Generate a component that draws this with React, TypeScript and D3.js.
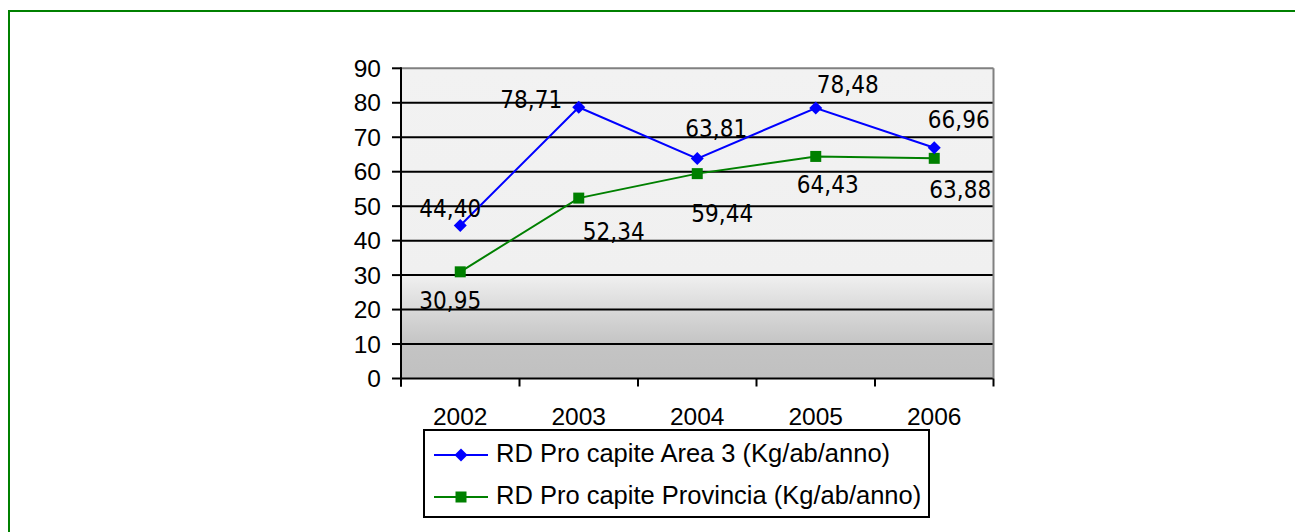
import React from "react";
import * as d3 from "d3";

const years = ["2002", "2003", "2004", "2005", "2006"];
const area3 = [44.4, 78.71, 63.81, 78.48, 66.96];
const provincia = [30.95, 52.34, 59.44, 64.43, 63.88];
const yTicks = [0, 10, 20, 30, 40, 50, 60, 70, 80, 90];
const seriesNames = [
  "RD Pro capite Area 3 (Kg/ab/anno)",
  "RD Pro capite Provincia (Kg/ab/anno)",
];

// label offsets (layout) relative to each point: [dx, dy to baseline]
const areaLabelOff = [[-10, -8], [-47.5, 1], [19, -22], [32, -15], [24.5, -20]];
const provLabelOff = [[-10, 37], [35, 42], [25, 48], [12, 37], [26, 40]];

const W = 1295;
const H = 532;
const PL = 401, PR = 993.5, PT = 68.3, PB = 378.5;

const fmt = (v: number) => v.toFixed(2).replace(".", ",");

export default function App() {
  const x = d3.scaleBand<string>().domain(years).range([PL, PR]).padding(0);
  const y = d3.scaleLinear().domain([0, 90]).range([PB, PT]);
  const cx = (yr: string) => (x(yr) as number) + x.bandwidth() / 2;
  const line = d3
    .line<number>()
    .x((_, i) => cx(years[i]))
    .y((d) => y(d));
  const diamond = (px: number, py: number, r: number) =>
    `M${px},${py - r}L${px + r},${py}L${px},${py + r}L${px - r},${py}Z`;
  const boundaries = d3.range(years.length + 1).map((i) => PL + i * x.bandwidth());
  const gStops = (v: number) => (y(v) - PT) / (PB - PT);
  const labelFont = "'DejaVu Sans Condensed', 'DejaVu Sans', sans-serif";
  const axisFont = "'Liberation Sans', Arial, sans-serif";

  return (
    <svg
      width={W}
      height={H}
      style={{ position: "absolute", left: 0, top: 0, display: "block", background: "#fff" }}
    >
      <defs>
        <linearGradient id="bg" x1="0" y1="0" x2="0" y2="1">
          <stop offset={0} stopColor="#f2f2f2" />
          <stop offset={gStops(30)} stopColor="#f0f0f0" />
          <stop offset={gStops(20)} stopColor="#d9d9d9" />
          <stop offset={gStops(10)} stopColor="#c4c4c4" />
          <stop offset={1} stopColor="#c0c0c0" />
        </linearGradient>
      </defs>
      <rect x={9} y={11} width={1320} height={560} fill="none" stroke="#008000" strokeWidth={2} />

      <rect x={PL} y={PT} width={PR - PL} height={PB - PT} fill="url(#bg)" />
      {yTicks.map((t) => (
        <line
          key={t}
          x1={PL}
          x2={PR}
          y1={y(t)}
          y2={y(t)}
          stroke={t === 90 ? "#808080" : "#000"}
          strokeWidth={2}
        />
      ))}
      <line x1={PR} x2={PR} y1={PT} y2={PB} stroke="#808080" strokeWidth={2} />
      <line x1={PL} x2={PL} y1={PT - 1} y2={PB + 8} stroke="#000" strokeWidth={2} />
      {yTicks.map((t) => (
        <g key={"yt" + t}>
          <line x1={PL - 9} x2={PL} y1={y(t)} y2={y(t)} stroke="#000" strokeWidth={2} />
          <text
            x={381}
            y={y(t)}
            textAnchor="end"
            dominantBaseline="central"
            fontFamily={axisFont}
            fontSize={24.5}
            fill="#000"
          >
            {t}
          </text>
        </g>
      ))}
      {boundaries.map((b, i) => (
        <line key={"xt" + i} x1={b} x2={b} y1={PB} y2={PB + 8} stroke="#000" strokeWidth={2} />
      ))}
      {years.map((yr) => (
        <text
          key={"xl" + yr}
          x={cx(yr)}
          y={425}
          textAnchor="middle"
          fontFamily={axisFont}
          fontSize={24.5}
          fill="#000"
        >
          {yr}
        </text>
      ))}

      <path d={line(provincia) || ""} fill="none" stroke="#008000" strokeWidth={2} />
      <path d={line(area3) || ""} fill="none" stroke="#0000ff" strokeWidth={2} />
      {provincia.map((v, i) => (
        <rect key={"pm" + i} x={cx(years[i]) - 5.5} y={y(v) - 5.5} width={11} height={11} fill="#008000" />
      ))}
      {area3.map((v, i) => (
        <path key={"am" + i} d={diamond(cx(years[i]), y(v), 6.5)} fill="#0000ff" />
      ))}

      {area3.map((v, i) => (
        <text
          key={"al" + i}
          x={cx(years[i]) + areaLabelOff[i][0]}
          y={y(v) + areaLabelOff[i][1]}
          textAnchor="middle"
          fontFamily={labelFont}
          fontStretch="condensed"
          fontSize={24}
          fill="#000"
        >
          {fmt(v)}
        </text>
      ))}
      {provincia.map((v, i) => (
        <text
          key={"pl" + i}
          x={cx(years[i]) + provLabelOff[i][0]}
          y={y(v) + provLabelOff[i][1]}
          textAnchor="middle"
          fontFamily={labelFont}
          fontStretch="condensed"
          fontSize={24}
          fill="#000"
        >
          {fmt(v)}
        </text>
      ))}

      <rect x={424} y={430} width={505} height={87} fill="#fff" stroke="#000" strokeWidth={2} />
      {seriesNames.map((name, i) => {
        const ly = i === 0 ? 455 : 497;
        const col = i === 0 ? "#0000ff" : "#008000";
        return (
          <g key={"lg" + i}>
            <line x1={434} x2={488} y1={ly} y2={ly} stroke={col} strokeWidth={2} />
            {i === 0 ? (
              <path d={diamond(461, ly, 6.5)} fill={col} />
            ) : (
              <rect x={455.5} y={ly - 5.5} width={11} height={11} fill={col} />
            )}
            <text x={496} y={ly + 7} fontFamily={axisFont} fontSize={25.5} fill="#000">
              {name}
            </text>
          </g>
        );
      })}
    </svg>
  );
}
